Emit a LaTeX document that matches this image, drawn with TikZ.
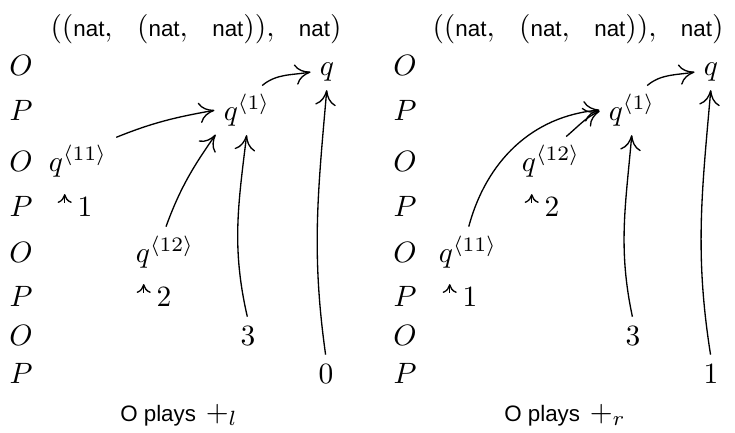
\documentclass[tikz,border=0pt]{standalone}
\usepackage{fontspec}
\setsansfont[Scale=0.76]{Liberation Sans}
\usetikzlibrary{arrows.meta,calc}

\begin{document}
\begin{tikzpicture}[
  x=0.34pt, y=0.34pt,
  >={Computer Modern Rightarrow[length=5.2pt,width=7pt]},
  mv/.style={anchor=base, inner sep=2pt},
  pl/.style={anchor=base, inner sep=0pt},
  jp/.style={->, line width=0.45pt, shorten <=1pt, shorten >=1pt},
  ptr/.style={-{Computer Modern Rightarrow[length=3pt,width=4.8pt]}, line width=0.45pt}
]
\useasboundingbox (0,0) rectangle (735,-432);

% type headers
\node[pl] (ltitle) at (196,-36) {$((\textsf{nat},\ \ (\textsf{nat},\ \ \textsf{nat})),\ \ \textsf{nat})$};
\node[pl] (rtitle) at (578,-36) {$((\textsf{nat},\ \ (\textsf{nat},\ \ \textsf{nat})),\ \ \textsf{nat})$};

% O/P polarity columns
\foreach \y/\p in {75/O,120/P,171/O,216/P,262/O,306/P,345/O,383/P} {
  \node[pl] at (21,-\y) {$\p$};
  \node[pl] at (405,-\y) {$\p$};
}

% left play
\node[mv] (lq)   at (327,-75)  {$q$};
\node[mv] (lq1)  at (247,-120) {$q^{\langle 1\rangle}$};
\node[mv] (lq11) at (78,-171)  {$q^{\langle 11\rangle}$};
\node[mv] (ln1)  at (85,-216)  {$1$};
\node[mv] (lq12) at (165,-262) {$q^{\langle 12\rangle}$};
\node[mv] (ln2)  at (164,-306) {$2$};
\node[mv] (ln3)  at (248,-345) {$3$};
\node[mv] (lres) at (326,-383) {$0$};

\draw[jp] (lq1.60) to[out=40,in=190] (lq.west);
\draw[jp] (lq11.north east) to[out=22,in=190] (lq1.west);
\draw[jp] (lq12.north) to[out=70,in=-125] (lq1.south west);
\draw[jp] (ln3.north) to[out=103,in=-97] (lq1.south);
\draw[jp] (lres.north) to[out=98,in=-95] (lq.south);
\draw[ptr] ([xshift=-2.2pt,yshift=-4.2pt]ln1.north west) -- ([xshift=-2.2pt,yshift=-1.2pt]ln1.north west);
\draw[ptr] ([xshift=-2.2pt,yshift=-4.2pt]ln2.north west) -- ([xshift=-2.2pt,yshift=-1.2pt]ln2.north west);

% right play
\node[mv] (rq)   at (711,-75)  {$q$};
\node[mv] (rq1)  at (632,-120) {$q^{\langle 1\rangle}$};
\node[mv] (rq12) at (551,-171) {$q^{\langle 12\rangle}$};
\node[mv] (rn2)  at (552,-216) {$2$};
\node[mv] (rq11) at (468,-262) {$q^{\langle 11\rangle}$};
\node[mv] (rn1)  at (470,-306) {$1$};
\node[mv] (rn3)  at (633,-345) {$3$};
\node[mv] (rres) at (711,-383) {$1$};

\draw[jp] (rq1.60) to[out=40,in=190] (rq.west);
\draw[jp] (rq12.60) to[out=40,in=205] (rq1.west);
\draw[jp] (rq11.north) to[out=75,in=185] (rq1.west);
\draw[jp] (rn3.north) to[out=102,in=-95] (rq1.south);
\draw[jp] (rres.north) to[out=99,in=-95] (rq.south);
\draw[ptr] ([xshift=-2.2pt,yshift=-4.2pt]rn2.north west) -- ([xshift=-2.2pt,yshift=-1.2pt]rn2.north west);
\draw[ptr] ([xshift=-2.2pt,yshift=-4.2pt]rn1.north west) -- ([xshift=-2.2pt,yshift=-1.2pt]rn1.north west);

% captions
\node[pl] (lcap) at (179,-421) {\textsf{O plays} $+_l$};
\node[pl] (rcap) at (565,-421) {\textsf{O plays} $+_r$};
\end{tikzpicture}
\end{document}
